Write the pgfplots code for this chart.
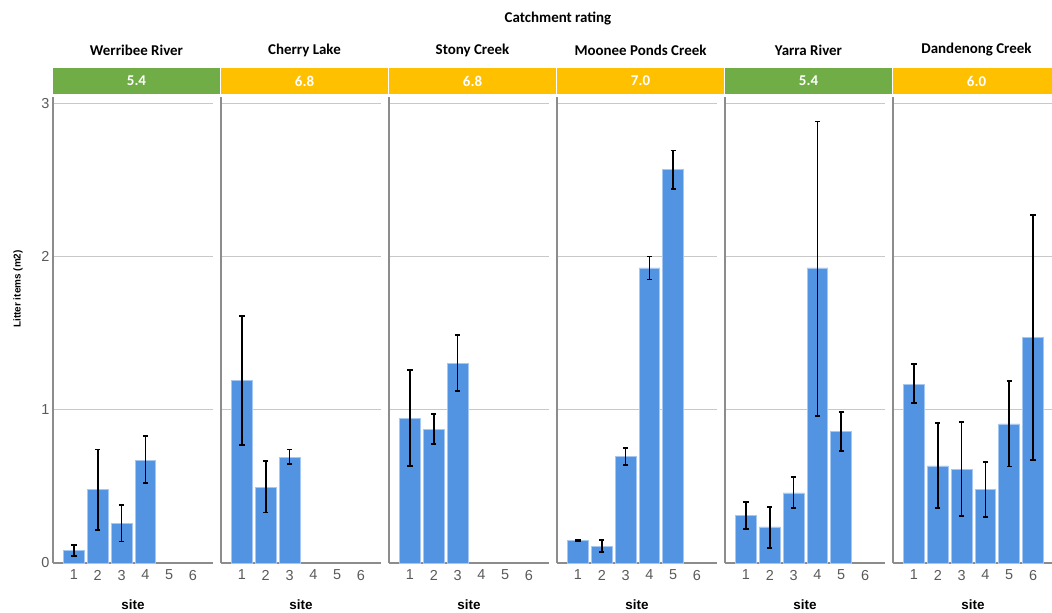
\documentclass[border=0pt]{standalone}
\usepackage{fontspec}
\setmainfont{Liberation Sans}
\newfontfamily\titlefont{Carlito}
\usepackage{pgfplots}
\pgfplotsset{compat=1.18}
\usepackage{pgfplotstable}
\definecolor{barblue}{RGB}{82,148,226}
\definecolor{baredge}{RGB}{165,200,242}
\definecolor{stripgreen}{RGB}{112,173,71}
\definecolor{stripyellow}{RGB}{255,192,0}
\definecolor{axisgray}{RGB}{140,140,140}
\definecolor{gridgray}{RGB}{200,200,200}
\definecolor{ticktext}{RGB}{90,90,90}

\pgfplotstableread{
x y lo hi
1 0.08 0.046 0.117
2 0.48 0.215 0.74
3 0.26 0.14 0.38
4 0.67 0.52 0.83
}\werribee
\pgfplotstableread{
x y lo hi
1 1.19 0.77 1.61
2 0.49 0.33 0.665
3 0.69 0.645 0.74
}\cherry
\pgfplotstableread{
x y lo hi
1 0.945 0.633 1.26
2 0.874 0.776 0.97
3 1.30 1.12 1.487
}\stony
\pgfplotstableread{
x y lo hi
1 0.148 0.143 0.153
2 0.106 0.07 0.148
3 0.696 0.641 0.752
4 1.925 1.85 2.0
5 2.565 2.44 2.69
}\moonee
\pgfplotstableread{
x y lo hi
1 0.31 0.22 0.40
2 0.235 0.10 0.365
3 0.457 0.36 0.56
4 1.925 0.96 2.88
5 0.857 0.73 0.985
}\yarra
\pgfplotstableread{
x y lo hi
1 1.166 1.046 1.296
2 0.633 0.36 0.913
3 0.611 0.307 0.92
4 0.478 0.30 0.657
5 0.907 0.63 1.187
6 1.47 0.674 2.27
}\dandenong

\pgfplotsset{
  panel/.style={
    scale only axis, width=160bp, height=466bp, anchor=south west,
    xmin=0.12, xmax=6.84, ymin=0, ymax=3.04,
    axis x line*=bottom, axis y line*=left,
    axis line style={draw=axisgray, line width=1.3bp},
    ymajorgrids, grid style={draw=gridgray, line width=0.9bp},
    major tick length=0pt,
    xtick={1,2,3,4,5,6}, ytick={0,1,2,3},
    /pgf/number format/assume math mode=true,
    tick label style={font=\fontsize{14.5}{17}\selectfont, text=ticktext},
    xticklabel style={yshift=-3.5bp},
    xlabel={site},
    xlabel style={font=\bfseries\fontsize{13.5}{15}\selectfont, at={(axis description cs:0.5,0)}, anchor=center, yshift=-42bp},
    ybar, bar width=0.87,
    clip=false,
  },
  bars/.style={
    fill=barblue, draw=baredge, line width=0.8bp,
    error bars/.cd, y dir=both, y explicit,
    error mark=|,
    error bar style={draw=black, line width=1.7bp},
    error mark options={draw=black, line width=1.7bp, mark size=2.6bp},
  },
}
\newcommand{\plotpanel}[1]{\addplot[bars] table[x=x, y=y, y error plus expr=\thisrow{hi}-\thisrow{y}, y error minus expr=\thisrow{y}-\thisrow{lo}] {#1};}

\begin{document}
\begin{tikzpicture}
\useasboundingbox (0bp,0bp) rectangle (1052bp,613bp);
% strips and titles
\node[font=\titlefont\bfseries\fontsize{15}{17}\selectfont] at (558bp,594bp) {Catchment rating};
\fill[stripgreen] (53bp,519bp) rectangle (219.5bp,545bp);
\fill[stripyellow] (221bp,519bp) rectangle (387.5bp,545bp);
\fill[stripyellow] (389bp,519bp) rectangle (555.5bp,545bp);
\fill[stripyellow] (557bp,519bp) rectangle (723.5bp,545bp);
\fill[stripgreen] (725bp,519bp) rectangle (891.5bp,545bp);
\fill[stripyellow] (893bp,519bp) rectangle (1052bp,545bp);
\foreach \i/\t/\v in {0/Werribee River/5.4, 1/Cherry Lake/6.8, 2/Stony Creek/6.8, 3/Moonee Ponds Creek/7.0, 4/Yarra River/5.4, 5/Dandenong Creek/6.0}{
  \pgfmathsetmacro{\cx}{136.5+168*\i}
  \node[font=\titlefont\bfseries\fontsize{15}{17}\selectfont] at (\cx bp,563bp) {\t};
  \node[font=\titlefont\bfseries\fontsize{15}{17}\selectfont, text=white] at (\cx bp,532bp) {\v};
}
\node[font=\bfseries\fontsize{10}{12}\selectfont, rotate=90] at (18bp,324bp) {Litter items (m2)};

\begin{axis}[panel, at={(53bp,50bp)}]
\plotpanel{\werribee}
\end{axis}
\begin{axis}[panel, at={(221bp,50bp)}, yticklabels={}]
\plotpanel{\cherry}
\end{axis}
\begin{axis}[panel, at={(389bp,50bp)}, yticklabels={}]
\plotpanel{\stony}
\end{axis}
\begin{axis}[panel, at={(557bp,50bp)}, yticklabels={}]
\plotpanel{\moonee}
\end{axis}
\begin{axis}[panel, at={(725bp,50bp)}, yticklabels={}]
\plotpanel{\yarra}
\end{axis}
\begin{axis}[panel, at={(893bp,50bp)}, yticklabels={}]
\plotpanel{\dandenong}
\end{axis}
\end{tikzpicture}
\end{document}
